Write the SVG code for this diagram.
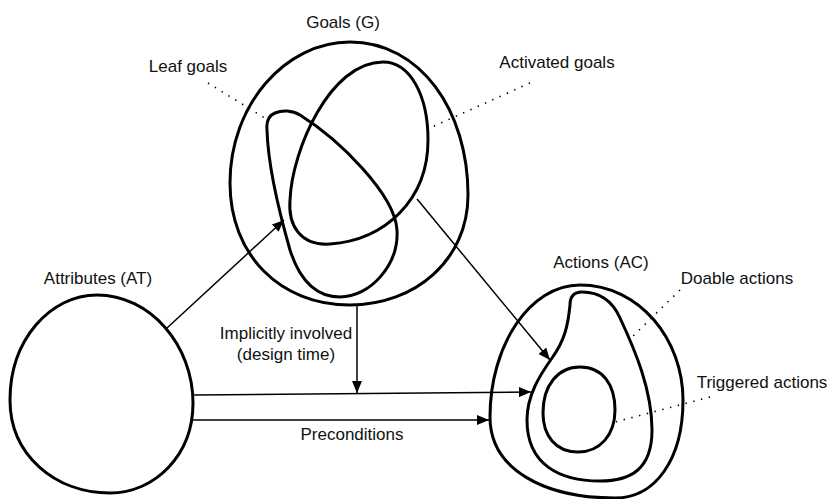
<svg xmlns="http://www.w3.org/2000/svg" width="834" height="499" viewBox="0 0 834 499">
<style>
.shape{fill:none;stroke:#000;stroke-width:3;stroke-linejoin:round}
.conn{fill:none;stroke:#000;stroke-width:1.5}
.dot{fill:none;stroke:#000;stroke-width:1.6;stroke-dasharray:1.4 6.6;stroke-linecap:butt}
text{font-family:"Liberation Sans",Arial,sans-serif;font-size:17px;fill:#111;text-anchor:middle}
</style>
<defs>
<marker id="arrow" viewBox="0 0 12 10" refX="12" refY="5" markerWidth="12" markerHeight="10" markerUnits="userSpaceOnUse" orient="auto">
<path d="M0,0 L12,5 L0,10 Z" fill="#000"/>
</marker>
</defs>
<rect width="834" height="499" fill="#fff"/>
<g id="goals">
<path class="shape" d="M350,42 C420,42 468,110 468,195 C468,260 415,305 350,305 C280,305 230,255 230,183 C230,105 285,42 350,42 Z"/>
<text x="343" y="28">Goals (G)</text>
</g>
<g id="activated-goals">
<path class="shape" d="M383,62 C410,62 428,95 428,140 C428,200 385,240 330,244 C300,246 288,225 290,200 C292,150 330,62 383,62 Z"/>
<line class="dot" x1="530" y1="83" x2="432" y2="127"/>
<text x="557" y="68">Activated goals</text>
</g>
<g id="leaf-goals">
<path class="shape" d="M275,113 C282,110 292,110 300,115 C340,140 395,195 397,230 C399,265 370,297 340,297 C312,297 298,275 290,250 C280,215 268,165 267,130 C266,120 270,115 275,113 Z"/>
<line class="dot" x1="208" y1="83" x2="268" y2="120"/>
<text x="188" y="72">Leaf goals</text>
</g>
<g id="attributes">
<path class="shape" d="M97,295 C150,295 193,345 193,403 C193,455 155,493 110,493 C55,493 10,455 10,400 C10,340 50,295 97,295 Z"/>
<text x="98" y="284">Attributes (AT)</text>
</g>
<g id="actions">
<path class="shape" d="M580,285 C640,285 683,340 683,400 C683,460 655,498 615,498 C545,498 490,470 490,417 C490,345 530,285 580,285 Z"/>
<text x="601" y="268">Actions (AC)</text>
</g>
<g id="doable-actions">
<path class="shape" d="M570,305 C570,295 575,292 582,292 C600,292 612,300 620,318 C635,350 652,390 652,430 C652,470 630,481 600,481 C560,481 527,465 527,420 C527,395 540,375 552,358 C565,340 568,325 570,305 Z"/>
<line class="dot" x1="680" y1="290" x2="629" y2="340"/>
<text x="737" y="284">Doable actions</text>
</g>
<g id="triggered-actions">
<path class="shape" d="M580,367 C603,367 615,385 615,410 C615,435 600,452 578,452 C555,452 543,435 543,413 C543,385 558,367 580,367 Z"/>
<line class="dot" x1="710" y1="397" x2="615" y2="422"/>
<text x="762" y="388">Triggered actions</text>
</g>
<g id="connectors">
<line class="conn" x1="167" y1="328" x2="284" y2="220" marker-end="url(#arrow)"/>
<line class="conn" x1="417" y1="199" x2="550" y2="360" marker-end="url(#arrow)"/>
<line class="conn" x1="357" y1="304" x2="357" y2="393" marker-end="url(#arrow)"/>
<line class="conn" x1="193" y1="395" x2="531" y2="392" marker-end="url(#arrow)"/>
<line class="conn" x1="193" y1="420" x2="489" y2="420" marker-end="url(#arrow)"/>
<text x="286" y="339">Implicitly involved</text>
<text x="286" y="360">(design time)</text>
<text x="352" y="440">Preconditions</text>
</g>
</svg>
